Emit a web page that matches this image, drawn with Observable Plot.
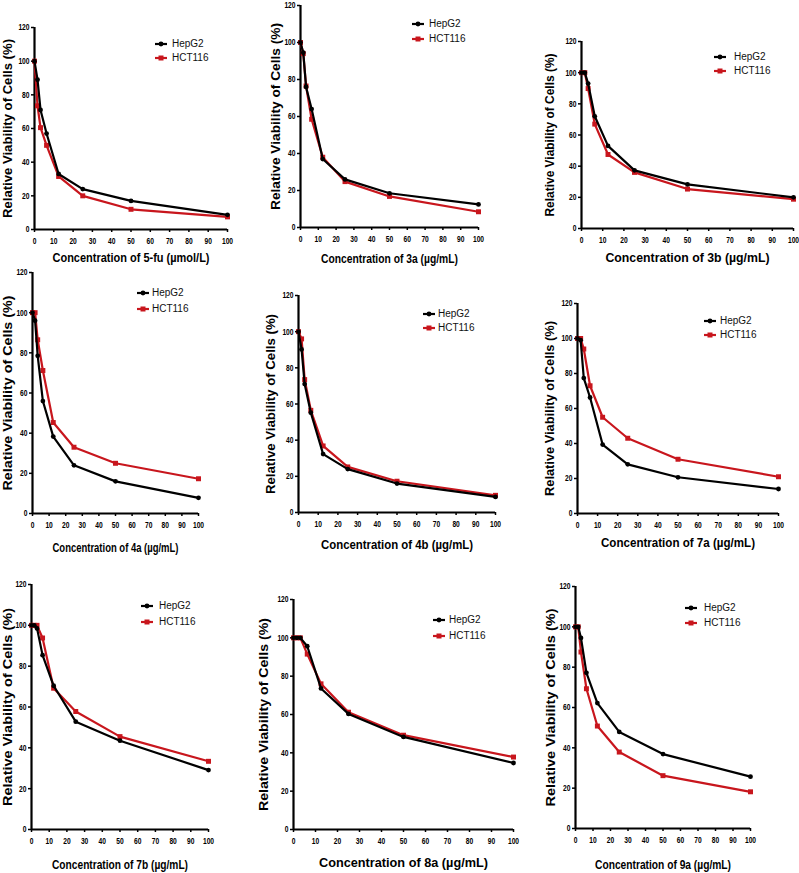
<!DOCTYPE html>
<html>
<head>
<meta charset="utf-8">
<script src="https://cdn.jsdelivr.net/npm/d3@7"></script>
<script src="https://cdn.jsdelivr.net/npm/@observablehq/plot@0.6"></script>
<style>
  html, body { margin: 0; padding: 0; background: #fff; }
  #chart { position: relative; width: 799px; height: 873px; overflow: hidden; background: #fff;
           font-family: "Liberation Sans", Arial, sans-serif; }
  #chart svg.panel text { font-family: "Liberation Sans", Arial, sans-serif; }
  #chart svg.panel g[aria-label="x-axis tick label"] text,
  #chart svg.panel g[aria-label="y-axis tick label"] text { font-weight: bold; font-size: 9px; }
  #chart svg.panel g[aria-label="x-axis label"] text,
  #chart svg.panel g[aria-label="y-axis label"] text { font-weight: bold; font-size: 13px; }
  .legsym { position: absolute; overflow: visible; }
  .legtxt { position: absolute; font-size: 10px; line-height: 14px; color: #111; white-space: nowrap; }
</style>
</head>
<body>
<div id="chart"></div>
<script>
// ---------- data ----------
const conc = [0, 1.5625, 3.125, 6.25, 12.5, 25, 50, 100];
const xTicks = [0, 10, 20, 30, 40, 50, 60, 70, 80, 90, 100];
const yTicks = [0, 20, 40, 60, 80, 100, 120];
const seriesNames = ["HepG2", "HCT116"];
const compounds = ["5-fu", "3a", "3b", "4a", "4b", "7a", "7b", "8a", "9a"];
const units = ["µmol/L", "µg/mL", "µg/mL", "µg/mL", "µg/mL", "µg/mL", "µg/mL", "µg/mL", "µg/mL"];
const yTitle = "Relative Viability of Cells (%)";

const hepG2_5fu = [100, 89, 71, 57, 33, 24, 17, 8.7];
const hct116_5fu = [100, 73.5, 60.5, 50, 31.5, 20, 12, 7.5];
const hepG2_3a = [100, 94.5, 76, 64, 37, 26, 18.5, 12.5];
const hct116_3a = [100, 94, 76.5, 58.5, 38, 24.8, 16.8, 8.5];
const hepG2_3b = [100, 100, 93, 72, 53, 37.3, 28.3, 20];
const hct116_3b = [100, 100, 89.8, 67, 47.5, 36, 25.3, 18.8];
const hepG2_4a = [100, 96, 78.5, 56, 38.3, 24, 16, 7.8];
const hct116_4a = [100, 100, 86.5, 71.2, 45.3, 33, 25, 17.3];
const hepG2_4b = [100, 90.2, 71, 55.2, 32.3, 24, 16, 8.6];
const hct116_4b = [100, 96, 73.5, 56.5, 36.8, 25.2, 17.3, 9.5];
const hepG2_7a = [100, 99, 77.4, 66.3, 39.4, 28.1, 20.7, 14];
const hct116_7a = [100, 100, 94, 73, 55, 43, 31, 21];
const hepG2_7b = [100, 100, 98.5, 85.4, 70.4, 52.8, 43.5, 29.1];
const hct116_7b = [100, 100, 100, 93.8, 69.2, 57.8, 45.5, 33.4];
const hepG2_8a = [100, 100, 100, 95.6, 73.6, 60.3, 48.3, 34.7];
const hct116_8a = [100, 100, 100, 91.5, 76, 61.2, 49.2, 37.8];
const hepG2_9a = [100, 100, 94.5, 77.2, 62.2, 47.9, 36.9, 25.7];
const hct116_9a = [100, 100, 87.5, 69.3, 50.8, 37.9, 26.2, 18.2];

const hepSeries = [hepG2_5fu, hepG2_3a, hepG2_3b, hepG2_4a, hepG2_4b, hepG2_7a, hepG2_7b, hepG2_8a, hepG2_9a];
const hctSeries = [hct116_5fu, hct116_3a, hct116_3b, hct116_4a, hct116_4b, hct116_7a, hct116_7b, hct116_8a, hct116_9a];

// ---------- layout (pixel placement of each panel) ----------
// axL/axR: frame left/right, top/bot: frame top/bottom, yT: y-title centre x, xT: x-title centre y,
// yLen/xLen: title lengths, leg: [symbol x, text x, row1 y, row2 y]
const layout = [
  {axL: 34,  axR: 227, top: 27,  bot: 229, yT: 7,   xT: 257, yLen: 179, xLen: 157, leg: [155, 172, 44, 58]},
  {axL: 300, axR: 478, top: 5,   bot: 227, yT: 275, xT: 258, yLen: 187, xLen: 137, leg: [412, 429, 24, 39]},
  {axL: 581, axR: 793, top: 41,  bot: 228, yT: 549, xT: 257, yLen: 163, xLen: 164, leg: [714, 734, 57, 71]},
  {axL: 32,  axR: 198, top: 272, bot: 513, yT: 7,   xT: 547, yLen: 195, xLen: 126, leg: [137, 152, 293, 309]},
  {axL: 298, axR: 495, top: 295, bot: 512, yT: 270, xT: 544, yLen: 180, xLen: 152, leg: [423, 438, 314, 328]},
  {axL: 577, axR: 778, top: 303, bot: 513, yT: 549, xT: 542, yLen: 175, xLen: 154, leg: [704, 720, 321, 335]},
  {axL: 31,  axR: 208, top: 584, bot: 829, yT: 7,   xT: 864, yLen: 198, xLen: 136, leg: [141, 159, 606, 622]},
  {axL: 293, axR: 513, top: 599, bot: 829, yT: 263, xT: 862, yLen: 193, xLen: 169, leg: [433, 449, 620, 636]},
  {axL: 575, axR: 750, top: 586, bot: 828, yT: 550, xT: 864, yLen: 198, xLen: 136, leg: [685, 704, 608, 623]}
];

const RED = "#c8161d";
const BLACK = "#000000";
const colorOf = {HepG2: BLACK, HCT116: RED};
const fsTitle = 13;
const tickCompress = 0.74;

const chart = document.getElementById("chart");

compounds.forEach((cmp, i) => {
  const L = layout[i];
  const mL = L.axL - L.yT + 12, mT = 8, mR = 14, mB = L.xT - L.bot + 12;
  const hepRows = conc.map((c, j) => ({conc: c, viability: hepSeries[i][j], line: "HepG2"}));
  const hctRows = conc.map((c, j) => ({conc: c, viability: hctSeries[i][j], line: "HCT116"}));
  const xTitle = `Concentration of ${cmp} (${units[i]})`;

  const svg = Plot.plot({
    width: mL + (L.axR - L.axL) + mR,
    height: mT + (L.bot - L.top) + mB,
    marginLeft: mL, marginRight: mR, marginTop: mT, marginBottom: mB,
    style: `position:absolute;left:${L.axL - mL}px;top:${L.top - mT}px;background:none;overflow:visible;max-width:none;`,
    x: {type: "linear", domain: [0, 100]},
    y: {type: "linear", domain: [0, 120]},
    marks: [
      Plot.axisX({ticks: xTicks, tickSize: 3, tickPadding: 5, strokeWidth: 1.5, stroke: BLACK,
                  label: xTitle, labelAnchor: "center", labelArrow: "none",
                  labelOffset: L.xT - L.bot + 0.36 * fsTitle}),
      Plot.axisY({ticks: yTicks, tickSize: 3, tickPadding: 2, strokeWidth: 1.5, stroke: BLACK,
                  label: yTitle, labelAnchor: "center", labelArrow: "none",
                  labelOffset: L.axL - L.yT + 0.36 * fsTitle}),
      Plot.ruleX([0], {stroke: BLACK, strokeWidth: 2.2}),
      Plot.ruleY([0], {stroke: BLACK, strokeWidth: 2.2}),
      Plot.line(hctRows, {x: "conc", y: "viability", stroke: RED, strokeWidth: 2.2}),
      Plot.dot(hctRows, {x: "conc", y: "viability", symbol: "square", fill: RED, r: 2.8}),
      Plot.line(hepRows, {x: "conc", y: "viability", stroke: BLACK, strokeWidth: 2.2}),
      Plot.dot(hepRows, {x: "conc", y: "viability", symbol: "circle", fill: BLACK, r: 2.4})
    ]
  });
  svg.classList.add("panel");
  chart.appendChild(svg);

  // title lengths and condensed tick labels
  const xl = svg.querySelector('g[aria-label="x-axis label"] text');
  if (xl) { xl.setAttribute("textLength", L.xLen); xl.setAttribute("lengthAdjust", "spacingAndGlyphs"); }
  const yl = svg.querySelector('g[aria-label="y-axis label"] text');
  if (yl) { yl.setAttribute("textLength", L.yLen); yl.setAttribute("lengthAdjust", "spacingAndGlyphs"); }
  svg.querySelectorAll('g[aria-label="x-axis tick label"] text, g[aria-label="y-axis tick label"] text').forEach(t => {
    const w = t.getComputedTextLength();
    t.setAttribute("textLength", (w * tickCompress).toFixed(2));
    t.setAttribute("lengthAdjust", "spacingAndGlyphs");
  });

  // legend
  seriesNames.forEach((name, k) => {
    const y = L.leg[2 + k];
    const sym = document.createElementNS("http://www.w3.org/2000/svg", "svg");
    sym.setAttribute("class", "legsym");
    sym.setAttribute("width", 12);
    sym.setAttribute("height", 8);
    sym.style.left = L.leg[0] + "px";
    sym.style.top = (y - 4) + "px";
    const ln = document.createElementNS("http://www.w3.org/2000/svg", "line");
    ln.setAttribute("x1", 0); ln.setAttribute("x2", 12); ln.setAttribute("y1", 4); ln.setAttribute("y2", 4);
    ln.setAttribute("stroke", colorOf[name]); ln.setAttribute("stroke-width", 2.2);
    sym.appendChild(ln);
    if (name === "HepG2") {
      const c = document.createElementNS("http://www.w3.org/2000/svg", "circle");
      c.setAttribute("cx", 6); c.setAttribute("cy", 4); c.setAttribute("r", 2.4); c.setAttribute("fill", colorOf[name]);
      sym.appendChild(c);
    } else {
      const r = document.createElementNS("http://www.w3.org/2000/svg", "rect");
      r.setAttribute("x", 3.5); r.setAttribute("y", 1.5); r.setAttribute("width", 5); r.setAttribute("height", 5);
      r.setAttribute("fill", colorOf[name]);
      sym.appendChild(r);
    }
    chart.appendChild(sym);
    const tx = document.createElement("div");
    tx.className = "legtxt";
    tx.textContent = name;
    tx.style.left = L.leg[1] + "px";
    tx.style.top = (y - 7) + "px";
    chart.appendChild(tx);
  });
});
</script>
</body>
</html>
